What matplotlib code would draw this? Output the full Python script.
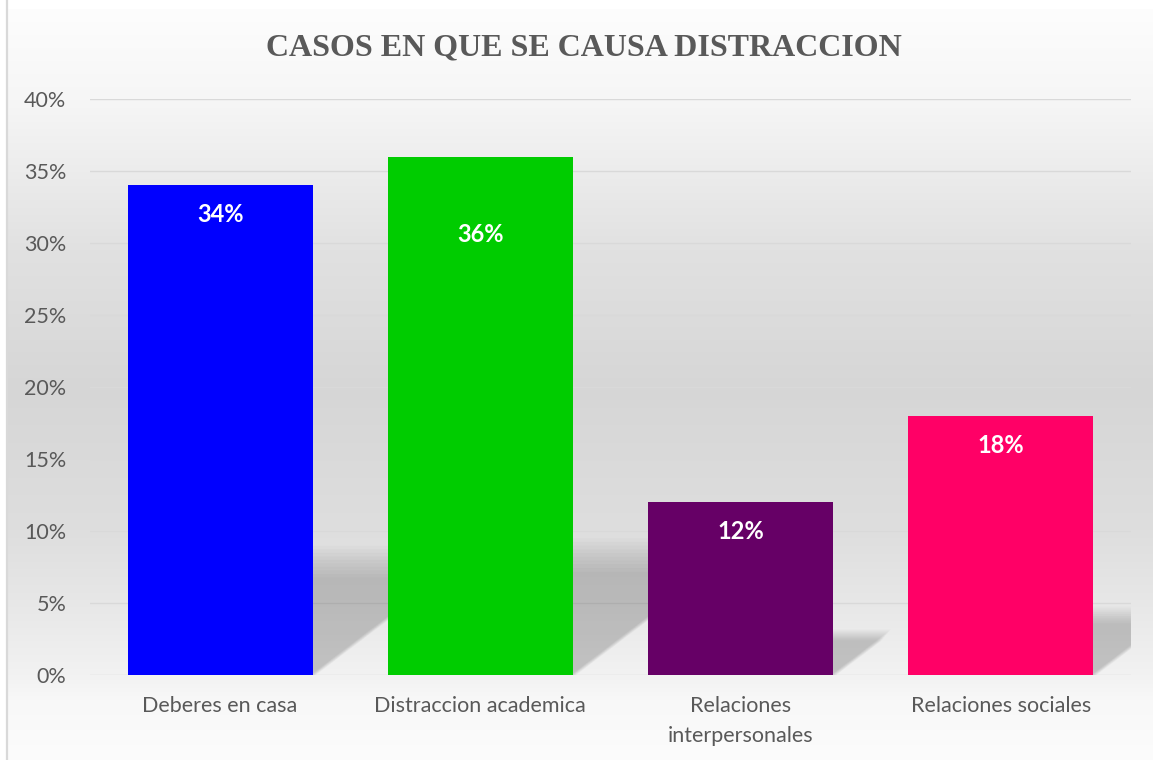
import numpy as np
import matplotlib
matplotlib.use("Agg")
import matplotlib.pyplot as plt
from matplotlib.patches import Polygon, Rectangle
from matplotlib.ticker import FuncFormatter

# ---- data ----
categories = ["Deberes en casa", "Distraccion academica", "Relaciones\ninterpersonales", "Relaciones sociales"]
values = [34, 36, 12, 18]
bar_colors = ["#0000FF", "#00CC00", "#660066", "#FF0066"]
label_offsets_px = [-29, -78, -29, -30]
yticks = [0, 5, 10, 15, 20, 25, 30, 35, 40]
title = "CASOS EN QUE SE CAUSA DISTRACCION"

W, H, DPI = 1153, 760, 100
fig = plt.figure(figsize=(W / DPI, H / DPI), dpi=DPI)

# background gradient (vertical)
bg = fig.add_axes([0, 0, 1, 1], zorder=-10)
stops_y = [0, 9, 100, 250, 390, 530, 600, 675, 700, 760]
stops_v = [255, 253, 246, 225, 214, 222, 231, 242, 248, 252]
ys = np.arange(H)
vals = np.interp(ys, stops_y, stops_v) / 255.0
img = np.repeat(vals[:, None], 4, axis=1)
bg.imshow(np.dstack([img, img, img]), aspect="auto", extent=[0, 1, 0, 1],
          interpolation="bilinear")
bg.set_axis_off()
# white outside border
fig.patches.append(Rectangle((0, 0), 7 / W, 1, transform=fig.transFigure,
                             facecolor="white", edgecolor="none", zorder=-5))
fig.patches.append(Rectangle((0, 1 - 9 / H), 1, 9 / H, transform=fig.transFigure,
                             facecolor="white", edgecolor="none", zorder=-5))
fig.patches.append(Rectangle((7 / W, -0.1), 1.1, (H - 9 + 0.1 * H) / H + 0.1,
                             transform=fig.transFigure, facecolor="none",
                             edgecolor="#d9d9d9", linewidth=1.6, zorder=-4))

left, right = 90 / W, 1131 / W
bottom, top = (H - 675) / H, (H - 99) / H
ax = fig.add_axes([left, bottom, right - left, top - bottom])
ax.set_facecolor("none")

x = np.arange(len(categories))
bw = 0.71
ax.set_xlim(-0.5, len(categories) - 0.5)
ax.set_ylim(0, 40)

# gridlines (below the shadows)
for t in yticks:
    ax.axhline(t, color="#d9d9d9", linewidth=1.0, zorder=0.4)

# soft perspective shadows derived from bars
for xi, v in zip(x, values):
    hs = 0.24 * v
    dx = 0.0175 * v
    xl, xr = xi - bw / 2, xi + bw / 2
    n = 10
    for i in range(n):
        s = 1.10 - 0.03 * i
        hh = hs * s
        dd = dx * s
        shift = (1 - s) * 0.08
        poly = Polygon([(xl, 0), (xr + shift, 0), (xr + dd + shift, hh), (xl + dd, hh)],
                       closed=True, facecolor="black", edgecolor="none",
                       alpha=0.021, zorder=0.5)
        ax.add_patch(poly)

bars = ax.bar(x, values, width=bw, color=bar_colors, zorder=2)

for b, v, off in zip(bars, values, label_offsets_px):
    ax.annotate(f"{v}%", xy=(b.get_x() + b.get_width() / 2, v),
                xytext=(0, off * 72 / DPI), textcoords="offset points",
                ha="center", va="center", color="white", fontsize=17,
                fontweight="bold", family="Lato", zorder=3)

ax.set_yticks(yticks)
ax.yaxis.set_major_formatter(FuncFormatter(lambda v, p: f"{int(v)}%"))
ax.set_xticks(x)
ax.set_xticklabels(categories)
ax.tick_params(axis="both", length=0, colors="#595959", labelsize=15.5)
ax.tick_params(axis="y", pad=17)
ax.tick_params(axis="x", pad=15)
for lab in ax.get_xticklabels() + ax.get_yticklabels():
    lab.set_family("Lato")
for lab in ax.get_xticklabels():
    lab.set_linespacing(1.65)
for sp in ax.spines.values():
    sp.set_visible(False)

fig.text(584 / W, 1 - 48 / H, title, ha="center", va="center",
         fontsize=23, fontweight="bold", family="Liberation Serif", color="#595959")

fig.savefig("out.png", dpi=DPI)
